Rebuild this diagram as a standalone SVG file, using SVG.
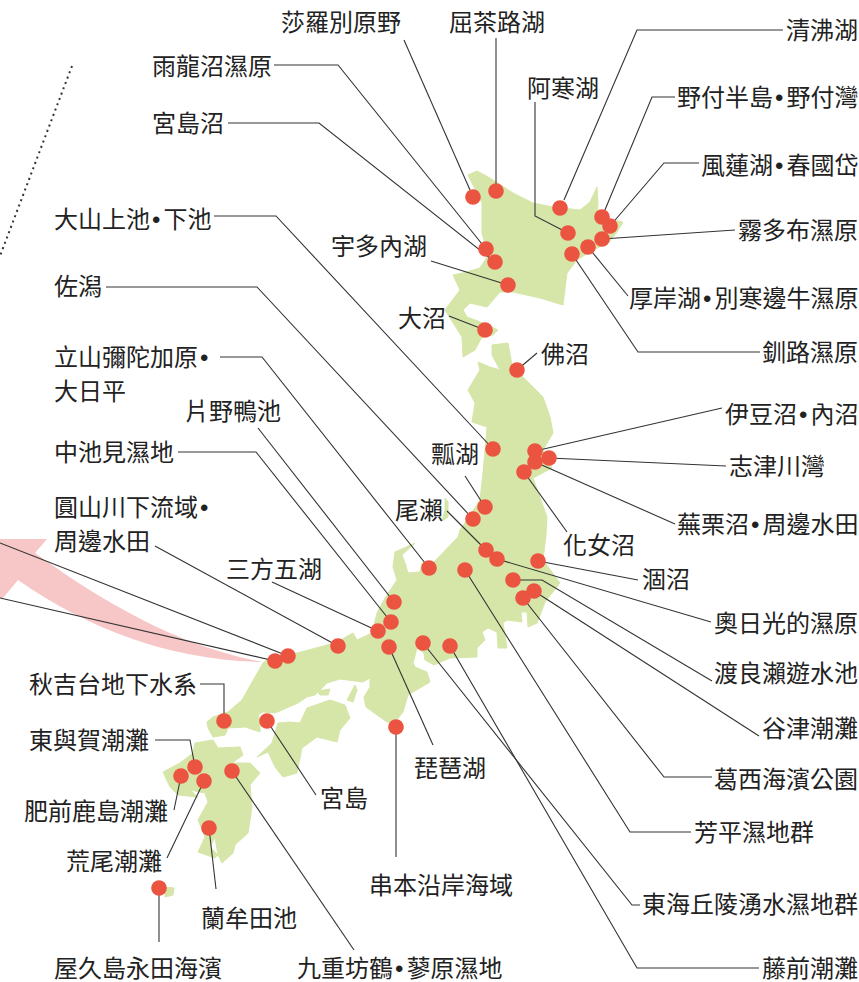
<svg xmlns="http://www.w3.org/2000/svg" width="859" height="982" viewBox="0 0 859 982">
<style>
.land{fill:#d6e6a9;stroke:#d6e6a9;stroke-width:1;stroke-linejoin:round}
.arrow{fill:#f7c6c6;stroke:none}
.c{fill:none;stroke:#333;stroke-width:1.1}
.dot{fill:#eb5440}
.dots{fill:none;stroke:#333;stroke-width:2;stroke-dasharray:2 3.7}
text{font-family:"Noto Sans CJK TC","Noto Sans CJK JP",sans-serif;font-size:24px;fill:#222}
.m{font-family:"Liberation Sans",sans-serif;letter-spacing:3px}
</style>
<rect width="859" height="982" fill="#fff"/>
<g id="map">
<path id="hokkaido" class="land" d="M468,175 477,171 490,178 513,193 533,203 553,207 580,210 590,202 597,187 598,203 597,217 613,220 623,222 617,232 608,243 593,250 577,260 567,273 563,305 540,298 513,292 500,292 487,307 470,303 463,310 467,317 483,323 498,330 493,335 482,337 475,350 463,357 462,337 445,310 460,290 453,275 463,273 480,268 488,255 482,233 482,203Z"/>
<path id="honshu" class="land" d="M492,345 508,343 512,365 523,377 543,397 550,417 553,433 543,450 552,468 533,478 547,517 546,535 543,560 560,583 545,602 537,623 528,627 527,612 521,612 522,622 507,620 503,623 507,648 498,648 497,632 488,628 482,632 485,640 477,648 477,657 450,658 434,665 425,660 424,653 417,648 413,663 415,667 427,672 430,682 408,695 403,712 395,722 387,722 377,715 366,707 364,697 370,687 370,678 363,682 340,679 327,683 315,695 307,697 298,703 275,713 263,712 258,715 260,720 260,732 245,727 228,728 225,735 213,737 208,728 207,722 213,717 228,712 242,700 255,677 263,663 270,657 297,653 320,647 337,642 353,633 357,640 372,633 377,613 385,598 397,580 393,567 395,552 415,543 402,555 405,563 408,573 420,572 422,563 433,563 458,537 460,530 480,500 483,473 487,427 472,422 475,403 468,390 480,370 478,362 490,367 500,370 492,355Z"/>
<path id="shikoku" class="land" d="M257,757 272,743 278,723 290,722 300,723 307,708 330,700 345,705 350,718 340,730 337,742 317,737 302,748 297,773 283,777 275,767 268,752Z"/>
<path id="awaji" class="land" d="M355,685 347,700 353,702 357,690Z"/>
<path id="islet" class="land" d="M317,691 330,689 328,695 320,695Z"/>
<path id="kyushu" class="land" d="M195,743 213,740 218,748 240,747 243,755 232,763 250,763 260,773 250,785 252,807 248,833 235,845 233,853 222,863 218,855 215,837 210,847 218,855 215,858 198,852 205,837 198,820 208,802 205,793 190,790 198,797 178,795 170,787 163,772 180,763 193,753Z"/>
<path id="yakushima" class="land" d="M165,887 174,888 173,895 165,897Z"/>
<path id="sado" class="land" d="M445,498 448,502 448,517 442,521 445,510Z"/>
</g>
<path id="arrow" class="arrow" d="M262,662C200,650 130,622 35,553L47,539H0V598H3L18,580C90,630 170,660 262,662Z"/>
<path id="boundary" class="dots" d="M72,66 0,256"/>
<g id="connectors">
<path class="c" d="M404,40 470,190"/>
<path class="c" d="M496,38V185"/>
<path class="c" d="M783,30H637L564,200"/>
<path class="c" d="M274,65H338L486,249"/>
<path class="c" d="M228,123H319L495,262"/>
<path class="c" d="M535,102V216L568,233"/>
<path class="c" d="M675,97H652L602,217"/>
<path class="c" d="M699,163H664L610,226"/>
<path class="c" d="M735,230 602,239"/>
<path class="c" d="M431,261 508,285"/>
<path class="c" d="M628,296 588,247"/>
<path class="c" d="M449,316 485,330"/>
<path class="c" d="M760,352H638L572,254"/>
<path class="c" d="M537,353 517,370"/>
<path class="c" d="M214,216H276L493,449"/>
<path class="c" d="M106,287H257L473,519"/>
<path class="c" d="M220,357H262L429,568"/>
<path class="c" d="M258,428 394,602"/>
<path class="c" d="M178,452H256L391,622"/>
<path class="c" d="M155,546 338,646"/>
<path class="c" d="M0,543 288,656"/>
<path class="c" d="M0,598 275,661"/>
<path class="c" d="M272,582 378,631"/>
<path class="c" d="M465,476 485,507"/>
<path class="c" d="M447,511 486,550"/>
<path class="c" d="M497,559 711,622"/>
<path class="c" d="M513,580H542L712,681"/>
<path class="c" d="M534,591 759,736"/>
<path class="c" d="M523,598 664,777H712"/>
<path class="c" d="M538,561 638,580"/>
<path class="c" d="M524,472 567,532"/>
<path class="c" d="M549,458 726,466"/>
<path class="c" d="M535,451 722,408"/>
<path class="c" d="M535,462 675,524"/>
<path class="c" d="M465,570 630,832H691"/>
<path class="c" d="M423,643 632,905H640"/>
<path class="c" d="M450,646 637,968H759"/>
<path class="c" d="M389,647 433,745"/>
<path class="c" d="M200,684H224V721"/>
<path class="c" d="M155,740H190L195,767"/>
<path class="c" d="M174,810 181,776"/>
<path class="c" d="M167,858 204,781"/>
<path class="c" d="M316,795 267,721"/>
<path class="c" d="M396,727V857"/>
<path class="c" d="M216,889 209,828"/>
<path class="c" d="M159,888V942"/>
<path class="c" d="M354,950 232,771"/>
</g>
<g id="dots">
<circle class="dot" cx="473" cy="197" r="7.8"/><circle class="dot" cx="496" cy="191" r="7.8"/><circle class="dot" cx="486" cy="249" r="7.8"/><circle class="dot" cx="495" cy="262" r="7.8"/><circle class="dot" cx="508" cy="285" r="7.8"/><circle class="dot" cx="485" cy="330" r="7.8"/><circle class="dot" cx="560" cy="208" r="7.8"/><circle class="dot" cx="568" cy="233" r="7.8"/><circle class="dot" cx="602" cy="217" r="7.8"/><circle class="dot" cx="610" cy="226" r="7.8"/><circle class="dot" cx="602" cy="239" r="7.8"/><circle class="dot" cx="588" cy="247" r="7.8"/><circle class="dot" cx="572" cy="254" r="7.8"/><circle class="dot" cx="517" cy="370" r="7.8"/><circle class="dot" cx="493" cy="449" r="7.8"/><circle class="dot" cx="535" cy="451" r="7.8"/><circle class="dot" cx="535" cy="462" r="7.8"/><circle class="dot" cx="549" cy="458" r="7.8"/><circle class="dot" cx="524" cy="472" r="7.8"/><circle class="dot" cx="485" cy="507" r="7.8"/><circle class="dot" cx="473" cy="519" r="7.8"/><circle class="dot" cx="486" cy="550" r="7.8"/><circle class="dot" cx="497" cy="559" r="7.8"/><circle class="dot" cx="538" cy="561" r="7.8"/><circle class="dot" cx="465" cy="570" r="7.8"/><circle class="dot" cx="429" cy="568" r="7.8"/><circle class="dot" cx="513" cy="580" r="7.8"/><circle class="dot" cx="534" cy="591" r="7.8"/><circle class="dot" cx="523" cy="598" r="7.8"/><circle class="dot" cx="394" cy="602" r="7.8"/><circle class="dot" cx="391" cy="622" r="7.8"/><circle class="dot" cx="378" cy="631" r="7.8"/><circle class="dot" cx="389" cy="647" r="7.8"/><circle class="dot" cx="338" cy="646" r="7.8"/><circle class="dot" cx="423" cy="643" r="7.8"/><circle class="dot" cx="450" cy="646" r="7.8"/><circle class="dot" cx="288" cy="656" r="7.8"/><circle class="dot" cx="275" cy="661" r="7.8"/><circle class="dot" cx="396" cy="727" r="7.8"/><circle class="dot" cx="224" cy="721" r="7.8"/><circle class="dot" cx="267" cy="721" r="7.8"/><circle class="dot" cx="195" cy="767" r="7.8"/><circle class="dot" cx="181" cy="776" r="7.8"/><circle class="dot" cx="204" cy="781" r="7.8"/><circle class="dot" cx="232" cy="771" r="7.8"/><circle class="dot" cx="209" cy="828" r="7.8"/><circle class="dot" cx="159" cy="888" r="7.8"/>
</g>
<g id="labels">
<text x="281" y="31">莎羅別原野</text>
<text x="449" y="31">屈茶路湖</text>
<text x="786" y="39">清沸湖</text>
<text x="152" y="75">雨龍沼濕原</text>
<text x="527" y="97">阿寒湖</text>
<text x="677" y="106">野付半島<tspan class="m" dx="2">•</tspan>野付灣</text>
<text x="152" y="132">宮島沼</text>
<text x="701" y="174">風蓮湖<tspan class="m" dx="2">•</tspan>春國岱</text>
<text x="54" y="228">大山上池<tspan class="m" dx="2">•</tspan>下池</text>
<text x="738" y="239">霧多布濕原</text>
<text x="331" y="255">宇多內湖</text>
<text x="54" y="295">佐潟</text>
<text x="629" y="307">厚岸湖<tspan class="m" dx="2">•</tspan>別寒邊牛濕原</text>
<text x="398" y="327">大沼</text>
<text x="762" y="361">釧路濕原</text>
<text x="54" y="366">立山彌陀加原<tspan class="m" dx="2">•</tspan></text>
<text x="541" y="363">佛沼</text>
<text x="54" y="400">大日平</text>
<text x="185" y="420">片野鴨池</text>
<text x="725" y="423">伊豆沼<tspan class="m" dx="2">•</tspan>內沼</text>
<text x="54" y="461">中池見濕地</text>
<text x="431" y="463">瓢湖</text>
<text x="729" y="475">志津川灣</text>
<text x="54" y="516">圓山川下流域<tspan class="m" dx="2">•</tspan></text>
<text x="395" y="519">尾瀨</text>
<text x="677" y="533">蕪栗沼<tspan class="m" dx="2">•</tspan>周邊水田</text>
<text x="54" y="550">周邊水田</text>
<text x="563" y="554">化女沼</text>
<text x="226" y="578">三方五湖</text>
<text x="642" y="588">涸沼</text>
<text x="714" y="632">奧日光的濕原</text>
<text x="714" y="682">渡良瀨遊水池</text>
<text x="29" y="693">秋吉台地下水系</text>
<text x="762" y="737">谷津潮灘</text>
<text x="29" y="749">東與賀潮灘</text>
<text x="414" y="777">琵琶湖</text>
<text x="714" y="788">葛西海濱公園</text>
<text x="320" y="807">宮島</text>
<text x="24" y="820">肥前鹿島潮灘</text>
<text x="694" y="841">芳平濕地群</text>
<text x="66" y="870">荒尾潮灘</text>
<text x="369" y="894">串本沿岸海域</text>
<text x="642" y="913">東海丘陵湧水濕地群</text>
<text x="201" y="927">蘭牟田池</text>
<text x="54" y="977">屋久島永田海濱</text>
<text x="297" y="977">九重坊鶴<tspan class="m" dx="2">•</tspan>蓼原濕地</text>
<text x="762" y="977">藤前潮灘</text>
</g>
</svg>
